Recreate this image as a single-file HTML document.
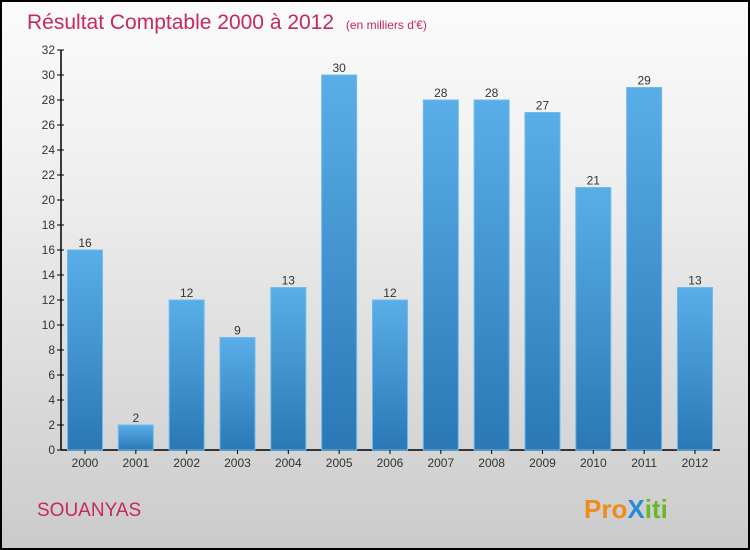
<!DOCTYPE html>
<html><head><meta charset="utf-8"><style>
body{margin:0;width:750px;height:550px;overflow:hidden;font-family:"Liberation Sans",sans-serif}
#wrap{position:absolute;left:0;top:0;width:746px;height:546px;border:2px solid #000;background:linear-gradient(#fbfbfb,#f0f0f0 30%,#cbcbcb);}
</style></head><body>
<div id="wrap">
<svg width="746" height="546" style="position:absolute;left:0;top:0" id="svg">
<defs><linearGradient id="bg" x1="0" y1="0" x2="0" y2="1"><stop offset="0" stop-color="#5aaee8"/><stop offset="1" stop-color="#2a78b6"/></linearGradient></defs>
<text x="25" y="27" font-size="21" fill="#c8285a">Résultat Comptable 2000 à 2012 <tspan font-size="12" dx="6">(en milliers d'€)</tspan></text>
<text x="35" y="514" font-size="19" fill="#c8285a">SOUANYAS</text>
<text x="582" y="516" font-size="26" font-weight="bold"><tspan fill="#f08a1c">Pro</tspan><tspan fill="#2a8ad8">X</tspan><tspan fill="#6ab82a">iti</tspan></text>
<g id="g"></g>
</svg></div>
<script>
const categories=["2000","2001","2002","2003","2004","2005","2006","2007","2008","2009","2010","2011","2012"];
const values=[16,2,12,9,13,30,12,28,28,27,21,29,13];
const yTicks=[0,2,4,6,8,10,12,14,16,18,20,22,24,26,28,30,32];
const ns="http://www.w3.org/2000/svg",g=document.getElementById('g');
const y=v=>448-v*12.5, x=i=>83+i*50.83;
function mk(t,a,txt){const e=document.createElementNS(ns,t);for(const k in a)e.setAttribute(k,a[k]);if(txt!==undefined)e.textContent=txt;g.appendChild(e);return e;}
let ax=mk('line',{x1:59,y1:y(32),x2:59,y2:y(0),stroke:'#000','stroke-width':1.5});


let bx=mk('line',{x1:59,y1:y(0),x2:718,y2:y(0),stroke:'#000','stroke-width':1.5});


yTicks.forEach(v=>{
 mk('line',{x1:55,y1:y(v),x2:62,y2:y(v),stroke:'#000'});
 let t=mk('text',{x:53,y:y(v)+4,'font-size':12,fill:'#333','text-anchor':'end'},v);
 
 
});
categories.forEach((c,i)=>{
 let r=mk('rect',{x:x(i)-17.5,y:y(values[i]),width:35,height:y(0)-y(values[i]),fill:'url(#bg)',stroke:'#6bbcf0','stroke-width':1});
 
 
 let l=mk('text',{x:x(i),y:y(values[i])-3,'font-size':12,fill:'#333','text-anchor':'middle'},values[i]);
 
 
 mk('line',{x1:x(i),y1:y(0),x2:x(i),y2:y(0)+4,stroke:'#000'});
 let t=mk('text',{x:x(i),y:y(0)+17,'font-size':12,fill:'#333','text-anchor':'middle'},c);
 
 
});
</script></body></html>
